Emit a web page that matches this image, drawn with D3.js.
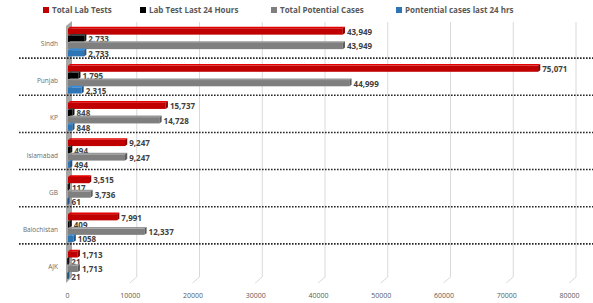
<!DOCTYPE html>
<html>
<head>
<meta charset="utf-8">
<script src="https://cdn.jsdelivr.net/npm/d3@7"></script>
<style>
  html, body { margin: 0; padding: 0; background: #ffffff; }
  svg { display: block; }
</style>
</head>
<body>
<svg id="chart" width="593" height="303"></svg>
<script>
const categories = ["Sindh", "Punjab", "KP", "Islamabad", "GB", "Balochistan", "AJK"];
const seriesNames = ["Total Lab Tests", "Lab Test Last 24 Hours", "Total Potential Cases", "Pontential cases last 24 hrs"];
const totalLabTests = [43949, 75071, 15737, 9247, 3515, 7991, 1713];
const labTestLast24 = [2733, 1795, 848, 494, 117, 409, 21];
const totalPotentialCases = [43949, 44999, 14728, 9247, 3736, 12337, 1713];
const potentialLast24 = [2733, 2315, 848, 494, 61, 1058, 21];
const potentialLast24Labels = ["2,733", "2,315", "848", "494", "61", "1058", "21"];
const xTicks = [0, 10000, 20000, 30000, 40000, 50000, 60000, 70000, 80000];
const colors = ["#C00000", "#000000", "#7F7F7F", "#2E75B6"];

const series = [totalLabTests, labTestLast24, totalPotentialCases, potentialLast24];
const fmt = d3.format(",");

const svg = d3.select("#chart");

const x = d3.scaleLinear().domain([0, 80000]).range([67, 569]);
const y = d3.scaleBand().domain(categories).range([22, 282]);
const inner = d3.scaleBand().domain(d3.range(4)).range([5, 34]).paddingInner(0.0);

const dx = 7, dy = 6; // back-plane offset

// gridlines on back wall with floor slant
const grid = svg.append("g");
xTicks.forEach(t => {
  if (t === 0) return;
  const xb = x(t) + dx;
  grid.append("path")
    .attr("d", `M${xb},22 L${xb},${283 - dy} L${x(t)},283`)
    .attr("fill", "none").attr("stroke", "#D9D9D9").attr("stroke-width", 1);
});

// left wall
svg.append("path")
  .attr("d", `M${x(0)-1},26 L${x(0)+5},21 L${x(0)+5},${283-dy} L${x(0)-1},283 Z`)
  .attr("fill", "#A6A6A6");

// dotted separators
for (let i = 1; i < categories.length; i++) {
  const yy = y(categories[i]) - 1;
  svg.append("line")
    .attr("x1", 19).attr("x2", 593).attr("y1", yy).attr("y2", yy)
    .attr("stroke", "#262626").attr("stroke-width", 1.6)
    .attr("stroke-dasharray", "1.6,1.4");
}

// bars
const bars = svg.append("g");
const d = 2.2, dv = 1.6;
series.forEach((vals, s) => {
  const base = d3.color(colors[s]);
  const top = s === 1 ? "#3a3a3a" : base.brighter(0.5).formatHex();
  const side = s === 1 ? "#111" : base.darker(0.9).formatHex();
  vals.forEach((v, i) => {
    const y0 = y(categories[i]) + inner(s) + 1.4;
    const h = inner.bandwidth() - 1.0;
    const x0 = x(0) + 1, x1 = x(v);
    const g = bars.append("g");
    g.append("path")
      .attr("d", `M${x0},${y0} L${x0+d},${y0-dv} L${x1+d},${y0-dv} L${x1},${y0} Z`)
      .attr("fill", top);
    g.append("rect")
      .attr("x", x0).attr("y", y0).attr("width", Math.max(0.5, x1 - x0)).attr("height", h)
      .attr("fill", colors[s]);
    g.append("path")
      .attr("d", `M${x1},${y0} L${x1+d},${y0-dv} L${x1+d},${y0+h-dv} L${x1},${y0+h} Z`)
      .attr("fill", side);
    const label = s === 3 ? potentialLast24Labels[i] : fmt(v);
    g.append("text")
      .attr("x", x1 + d + 2).attr("y", y0 + h / 2 + 3.4)
      .attr("font-family", "'Open Sans', sans-serif").attr("font-weight", 700)
      .attr("font-size", 8).attr("fill", "#404040")
      .text(label);
  });
});

// category labels
svg.append("g").selectAll("text").data(categories).join("text")
  .attr("x", 58).attr("y", c => y(c) + y.bandwidth() / 2 + 5.5)
  .attr("text-anchor", "end")
  .attr("font-family", "'Open Sans', sans-serif").attr("font-size", 6.5)
  .attr("fill", "#6b6b6b")
  .text(c => c);

// x axis labels
const xAxis = d3.axisBottom(x).tickValues(xTicks).tickSize(0).tickPadding(0).tickFormat(d3.format("d"));
const ax = svg.append("g").attr("transform", "translate(0,293)").call(xAxis);
ax.select(".domain").remove();
ax.selectAll("text")
  .attr("font-family", "'Open Sans', sans-serif").attr("font-size", 7)
  .style("fill", "#595959");

// legend
const legendX = [43, 140, 271, 396];
const lg = svg.append("g");
seriesNames.forEach((n, i) => {
  lg.append("rect").attr("x", legendX[i]).attr("y", 7).attr("width", 6).attr("height", 6).attr("fill", colors[i]);
  lg.append("text").attr("x", legendX[i] + 9).attr("y", 12.8)
    .attr("font-family", "'Open Sans', sans-serif").attr("font-weight", 700)
    .attr("font-size", 8).attr("fill", "#595959").text(n);
});
</script>
</body>
</html>
